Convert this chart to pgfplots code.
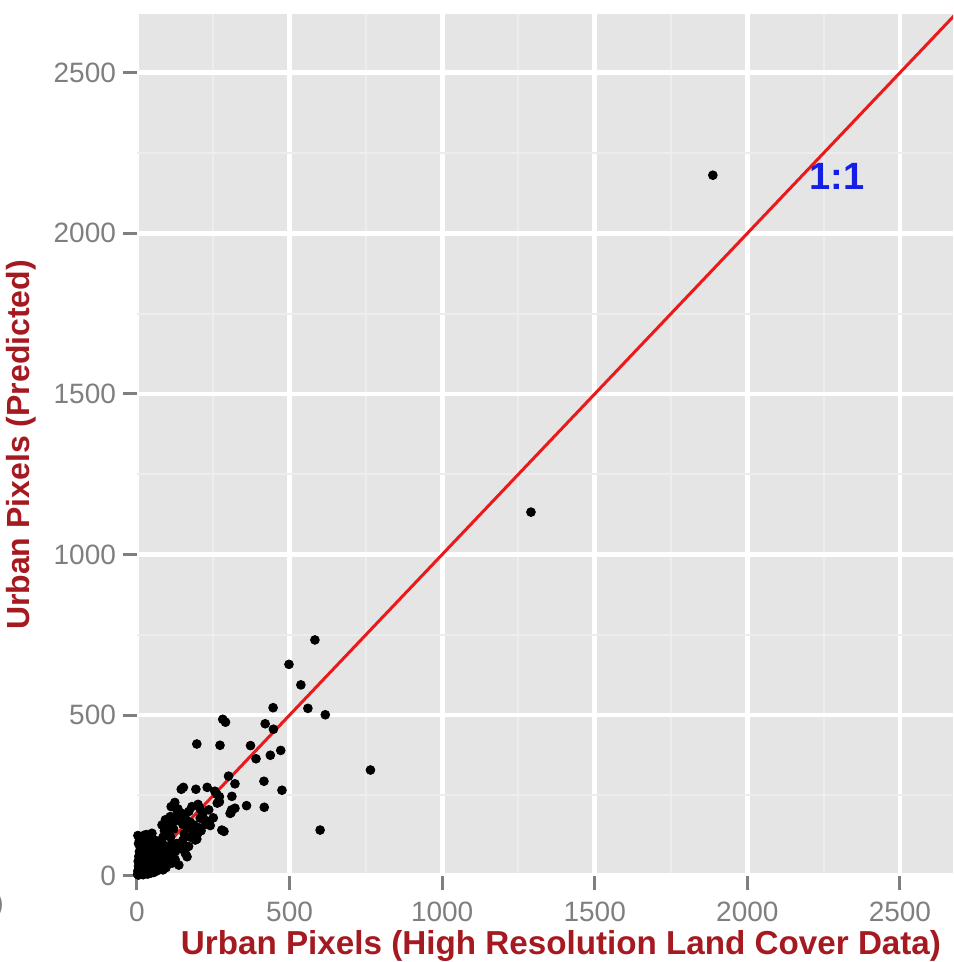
\documentclass[border=0pt]{standalone}
\usepackage{fontspec}
\setmainfont{Liberation Sans}
\usepackage{pgfplots}
\usepackage{pgfplotstable}
\pgfplotsset{compat=1.18}

\definecolor{panel}{RGB}{229,229,229}
\definecolor{minorgrid}{RGB}{237,237,237}
\definecolor{ticktext}{RGB}{127,127,127}
\definecolor{titlered}{RGB}{165,25,32}
\definecolor{oneline}{RGB}{235,25,25}
\definecolor{onelabel}{RGB}{20,30,230}

% Urban pixel counts: high resolution land cover (x) vs. predicted (y)
\pgfplotstableread{
x y
1887 2181
1291 1132
765 329
600 142
583 734
498 658
537 594
446 523
560 521
617 501
281 487
290 478
420 473
447 456
196 410
272 406
372 405
471 390
437 375
390 364
300 310
416 294
321 286
475 266
152 275
145 269
193 269
230 275
255 263
270 246
263 226
311 247
359 218
417 213
321 210
308 196
285 138
196 114
262 253
305 194
310 205
270 230
118 215
124 228
112 215
134 208
147 194
200 222
207 208
207 179
224 160
240 156
109 184
93 174
82 158
175 166
186 158
49 132
278 142
197 127
191 111
169 91
158 70
164 59
126 75
115 39
137 33
93 85
71 59
87 49
2 5
3 15
5 30
4 45
6 60
8 75
10 90
5 100
8 110
12 120
3 125
15 105
18 85
20 70
15 50
12 35
10 20
20 10
25 30
28 55
30 80
35 95
38 115
40 60
45 40
42 20
50 75
55 95
60 110
30 128
22 125
65 85
70 60
58 50
75 100
80 90
85 120
90 140
95 130
100 150
105 165
110 120
120 145
115 100
125 170
130 190
140 180
150 160
160 175
165 150
30 10
40 15
50 25
60 20
70 35
80 45
90 30
100 55
110 70
120 80
130 100
140 95
150 110
175 120
185 135
200 150
210 140
230 170
250 180
5 2
10 5
15 8
20 3
25 12
35 5
45 8
55 10
65 15
75 22
85 18
95 25
60 40
70 80
78 70
88 95
105 60
125 50
145 85
155 130
170 200
180 215
215 190
235 205
}\urban

\begin{document}
\begin{tikzpicture}
\begin{axis}[
  at={(0,0)}, anchor=south west,
  scale only axis,
  width=408pt, height=431pt,
  xmin=0, xmax=2674, ymin=-1, ymax=2683,
  axis line style={draw=none},
  axis background/.style={fill=panel},
  xtick={0,500,...,2500}, ytick={0,500,...,2500},
  minor xtick={250,750,...,2750}, minor ytick={250,750,...,2750},
  grid=both,
  major grid style={white, line width=2.4pt},
  minor grid style={minorgrid, line width=1pt},
  tick align=outside,
  xtick pos=bottom, ytick pos=left,
  major tick length=7pt, minor tick length=0pt,
  major tick style={ticktext, line width=1.5pt},
  /pgf/number format/assume math mode=true,
  /pgf/number format/1000 sep={},
  tick label style={font=\fontsize{14}{16}\selectfont, text=ticktext},
  xticklabel style={yshift=-2.5pt},
  xlabel={Urban Pixels (High Resolution Land Cover Data)},
  ylabel={Urban Pixels (Predicted)},
  label style={font=\bfseries\fontsize{16}{19}\selectfont, text=titlered},
  xlabel style={at={(axis description cs:0.5196,-0.0812)}, anchor=center,
    font=\bfseries\fontsize{16.6}{19}\selectfont},
  ylabel style={at={(axis description cs:-0.1422,0.5)}, anchor=center},
  clip=true,
]
\addplot[only marks, mark=*, mark size=2.2pt, black] table[x=x, y=y] {\urban};
\addplot[oneline, line width=1.5pt] coordinates {(0,0) (2800,2800)};
\node[font=\bfseries\fontsize{19}{22}\selectfont, text=onelabel, anchor=center] at (axis cs:2294,2177) {1:1};
\end{axis}
% edge of a neighbouring panel label
\node[font=\fontsize{14}{16}\selectfont, text=ticktext, anchor=east, inner sep=0pt] at (-66.5pt,-14.5pt) {)};
\pgfresetboundingbox
\path (-68.5pt,-43pt) rectangle (408pt,438pt);
\end{tikzpicture}
\end{document}
